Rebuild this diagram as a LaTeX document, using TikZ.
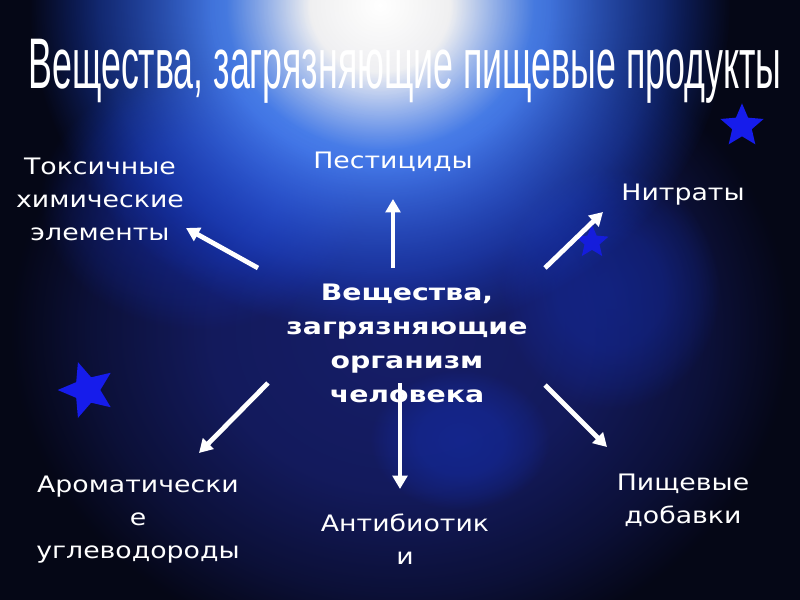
\documentclass[tikz,border=0pt]{standalone}
\usepackage{fontspec}
\setmainfont{DejaVu Sans}
\newfontfamily\lblfont[FakeStretch=1.18]{DejaVu Sans}
\newfontfamily\ctrfont[FakeStretch=1.25]{DejaVu Sans Bold}
\newfontfamily\titlefont{Liberation Sans}
\usetikzlibrary{shapes.geometric,arrows.meta,fadings}
\definecolor{bgdark}{RGB}{5,7,22}
\definecolor{navy}{RGB}{22,30,105}
\definecolor{glowA}{RGB}{80,140,255}
\definecolor{glowB}{RGB}{30,80,245}
\definecolor{glowC}{RGB}{20,45,170}
\definecolor{starblue}{RGB}{22,28,235}
\pgfdeclareradialshading{glowshade}{\pgfpointorigin}{color(0bp)=(white); color(5bp)=(white); color(11bp)=(glowA); color(22bp)=(glowB); color(50bp)=(glowC)}
\pgfdeclareradialshading{fadeshade}{\pgfpointorigin}{color(0bp)=(white); color(12bp)=(white!85!black); color(20bp)=(white!40!black); color(25bp)=(black); color(50bp)=(black)}
\pgfdeclarefading{softfade}{\pgfuseshading{fadeshade}}
\tikzset{
  lbl/.style={text=white, align=center, inner sep=0pt, font=\lblfont\fontsize{17pt}{24.75pt}\selectfont},
  ctr/.style={text=white, align=center, inner sep=0pt, font=\ctrfont\fontsize{17pt}{25.5pt}\selectfont},
  arr/.style={draw=white, line width=3.6pt, -{Triangle[length=10pt,width=11pt]}},
  starnode/.style={star, star points=5, star point ratio=2.2, fill=starblue, inner sep=0pt}
}
\begin{document}
\begin{tikzpicture}[x=0.75pt,y=-0.75pt]
\useasboundingbox (0,0) rectangle (800,600);
% background
\fill[bgdark] (0,0) rectangle (800,600);
\fill[navy, path fading=softfade] (400,330) ellipse [x radius=390, y radius=330];
\fill[glowC, path fading=softfade, opacity=0.6] (460,440) ellipse [x radius=90, y radius=70];
\fill[glowC, path fading=softfade, opacity=0.5] (200,200) ellipse [x radius=160, y radius=130];
\fill[glowC, path fading=softfade, opacity=0.5] (610,290) ellipse [x radius=110, y radius=120];
\shade[shading=glowshade, path fading=softfade] (380,5) ellipse [x radius=350, y radius=330];
% title
\node[text=white, inner sep=0pt, anchor=base] (title) at (405,88) {\resizebox{565pt}{37pt}{\titlefont Вещества, загрязняющие пищевые продукты}};
% stars
\node[starnode, minimum size=34pt] (s1) at (742,126) {};
\node[starnode, minimum size=44pt, rotate=18] (s2) at (87,390) {};
\node[starnode, minimum size=26pt, opacity=0.85] (s3) at (592,242) {};
% labels
\node[ctr] (center) at (407,343) {Вещества,\\загрязняющие\\организм\\человека};
\node[lbl] (tox) at (100,199) {Токсичные\\химические\\элементы};
\node[lbl] (pest) at (393,162) {Пестициды};
\node[lbl] (nitr) at (683,195) {Нитраты};
\node[lbl] (arom) at (138,520) {Ароматически\\е\\углеводороды};
\node[lbl] (anti) at (405,539) {Антибиотик\\и};
\node[lbl] (food) at (683,500) {Пищевые\\добавки};
% arrow ends
\coordinate (a1s) at (258,268); \coordinate (a1e) at (186,228);
\coordinate (a2s) at (393,268); \coordinate (a2e) at (393,199);
\coordinate (a3s) at (545,268); \coordinate (a3e) at (603,212);
\coordinate (a4s) at (268,383); \coordinate (a4e) at (199,453);
\coordinate (a5s) at (400,383); \coordinate (a5e) at (400,489);
\coordinate (a6s) at (545,385); \coordinate (a6e) at (607,447);
\draw[arr] (a1s) -- (a1e);
\draw[arr] (a2s) -- (a2e);
\draw[arr] (a3s) -- (a3e);
\draw[arr] (a4s) -- (a4e);
\draw[arr] (a5s) -- (a5e);
\draw[arr] (a6s) -- (a6e);
\end{tikzpicture}
\end{document}
